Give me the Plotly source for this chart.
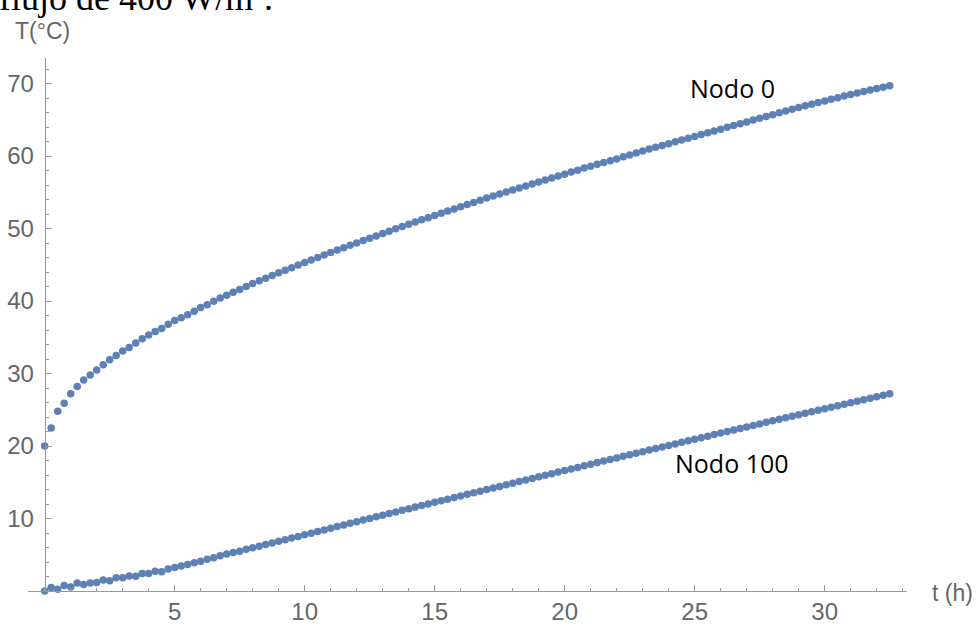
import plotly.graph_objects as go

# time in hours (every 0.25 h, 0 .. 32.5)
t_hours = [i * 0.25 for i in range(131)]

nodo0 = [
    20.0, 22.5, 24.8, 25.9, 27.2, 28.2, 29.1, 29.8, 30.5, 31.2, 31.9, 32.5, 33.1,
    33.6, 34.2, 34.8, 35.3, 35.8, 36.2, 36.8, 37.3, 37.7, 38.1, 38.6, 39.1,
    39.5, 39.95, 40.4, 40.8,
    41.2, 41.6, 42.0, 42.4,
    42.78, 43.15, 43.53, 43.9,
    44.25, 44.6, 44.95, 45.3,
    45.65, 46.0, 46.35, 46.7,
    47.03, 47.35, 47.68, 48.0,
    48.33, 48.65, 48.98, 49.3,
    49.63, 49.95, 50.28, 50.6,
    50.9, 51.2, 51.5, 51.8,
    52.1, 52.4, 52.7, 53.0,
    53.3, 53.6, 53.9, 54.2,
    54.48, 54.75, 55.03, 55.3,
    55.58, 55.85, 56.13, 56.4,
    56.68, 56.95, 57.23, 57.5,
    57.78, 58.05, 58.33, 58.6,
    58.85, 59.1, 59.35, 59.6,
    59.88, 60.15, 60.43, 60.7,
    60.95, 61.2, 61.45, 61.7,
    61.95, 62.2, 62.45, 62.7,
    62.95, 63.2, 63.45, 63.7,
    63.95, 64.2, 64.45, 64.7,
    64.95, 65.2, 65.45, 65.7,
    65.95, 66.2, 66.45, 66.7,
    66.93, 67.15, 67.38, 67.6,
    67.83, 68.05, 68.28, 68.5,
    68.7, 68.9, 69.1, 69.3,
    69.5, 69.7,
]

nodo100 = [
    0.0, 0.48, 0.25, 0.76, 0.55, 1.1, 0.9, 1.1, 1.18, 1.52, 1.4, 1.82, 1.82,
    2.07, 2.03, 2.42, 2.4, 2.73, 2.65, 3.03, 3.23, 3.45, 3.65, 3.88, 4.1,
    4.38, 4.6, 4.85, 5.1, 5.3, 5.5, 5.75, 5.95,
    6.18, 6.4, 6.63, 6.85,
    7.08, 7.3, 7.53, 7.75,
    7.98, 8.2, 8.43, 8.65,
    8.88, 9.1, 9.33, 9.55,
    9.78, 10.0, 10.23, 10.45,
    10.68, 10.9, 11.13, 11.35,
    11.57, 11.79, 12.01, 12.23,
    12.45, 12.67, 12.89, 13.11,
    13.33, 13.55, 13.77, 13.99,
    14.21, 14.43, 14.65, 14.87,
    15.09, 15.31, 15.53, 15.75,
    15.97, 16.18, 16.4, 16.62,
    16.84, 17.05, 17.27, 17.49,
    17.71, 17.92, 18.14, 18.36,
    18.58, 18.79, 19.01, 19.22,
    19.44, 19.65, 19.87, 20.08,
    20.29, 20.51, 20.72, 20.93,
    21.14, 21.36, 21.57, 21.78,
    21.99, 22.21, 22.42, 22.63,
    22.84, 23.05, 23.26, 23.47,
    23.68, 23.89, 24.1, 24.31,
    24.52, 24.72, 24.93, 25.14,
    25.35, 25.55, 25.76, 25.97,
    26.17, 26.38, 26.58, 26.79,
    26.99, 27.2,
]

x_ticks = [5, 10, 15, 20, 25, 30]
y_ticks = [10, 20, 30, 40, 50, 60, 70]
series_labels = ["Nodo 0", "Nodo 100"]

DOT = "#5E81B5"
AX = "#999999"
LBL = "#666666"

fig = go.Figure()
for ys, name in zip([nodo0, nodo100], series_labels):
    fig.add_trace(go.Scatter(
        x=t_hours, y=ys, mode="markers", name=name,
        marker=dict(color=DOT, size=7.5, line=dict(width=0)),
        showlegend=False, cliponaxis=False,
    ))

W, H = 979, 626
L, R, T, B = 28, 72, 58, 35
pw, ph = W - L - R, H - T - B
px_per_h = 26.0
px_per_deg = 7.25
x0 = -(44.7 - L) / px_per_h
x1 = x0 + pw / px_per_h
y1 = ph / px_per_deg

fig.update_layout(
    template="none",
    width=W, height=H,
    margin=dict(l=L, r=R, t=T, b=B, pad=0, autoexpand=False),
    plot_bgcolor="white", paper_bgcolor="white",
    font=dict(family="Liberation Sans, Arial, sans-serif", size=24, color=LBL),
    xaxis=dict(
        range=[x0, x1], showgrid=False, zeroline=False, automargin=False,
        showline=True, linecolor=AX, linewidth=1,
        tickmode="array", tickvals=x_ticks, ticktext=[str(v) for v in x_ticks],
        ticks="inside", ticklen=6, tickcolor=AX, tickwidth=1,
        minor=dict(dtick=1, tick0=0, ticks="inside", ticklen=3.5, tickcolor=AX, showgrid=False),
        tickfont=dict(size=24, color=LBL),
        ticklabelstandoff=-1,
    ),
    yaxis=dict(
        range=[0, y1], showgrid=False, zeroline=False, automargin=False,
        anchor="free", position=(44.7 - L) / pw,
        showline=True, linecolor=AX, linewidth=1,
        tickmode="array", tickvals=y_ticks, ticktext=[str(v) for v in y_ticks],
        ticks="inside", ticklen=6, tickcolor=AX, tickwidth=1,
        minor=dict(dtick=2, tick0=0, ticks="inside", ticklen=3.5, tickcolor=AX, showgrid=False),
        tickfont=dict(size=24, color=LBL),
        ticklabelstandoff=6,
    ),
)

def paper_x(px):
    return (px - L) / pw

def paper_y(py):
    return (H - B - py) / ph

annotations = [
    dict(text="T(°C)", x=paper_x(13), y=paper_y(31), xanchor="left", yanchor="middle",
         font=dict(size=23, color=LBL)),
    dict(text="t (h)", x=paper_x(930), y=paper_y(593), xanchor="left", yanchor="middle",
         font=dict(size=23, color=LBL)),
    dict(text=series_labels[0], x=paper_x(732), y=paper_y(88), xanchor="center", yanchor="middle",
         font=dict(family="Open Sans, sans-serif", size=25, color="black")),
    dict(text=series_labels[1], x=paper_x(732), y=paper_y(463), xanchor="center", yanchor="middle",
         font=dict(family="Open Sans, sans-serif", size=25, color="black")),
    dict(text="flujo de 400 W/m².", x=paper_x(-3), y=paper_y(20), xanchor="left", yanchor="bottom",
         font=dict(family="Liberation Serif, Times New Roman, serif", size=36, color="black")),
]
for a in annotations:
    a.update(xref="paper", yref="paper", showarrow=False)
fig.update_layout(annotations=annotations)

fig.write_html(
    "out.html",
    config={"displayModeBar": False},
    post_script="document.body.style.margin='0';document.body.style.overflow='hidden';",
)
